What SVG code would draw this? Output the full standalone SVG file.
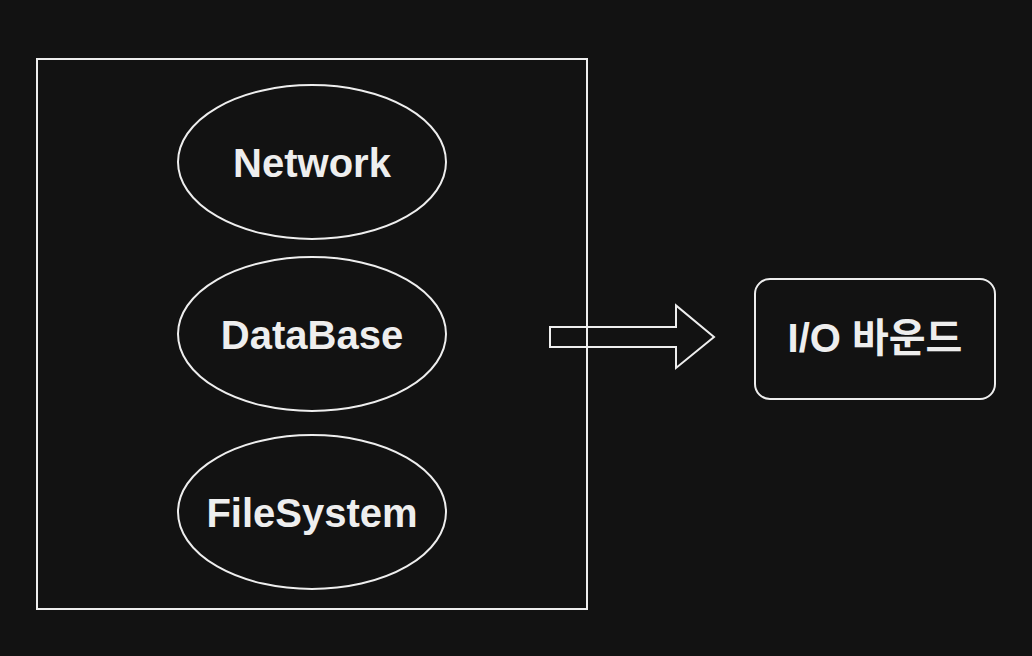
<svg xmlns="http://www.w3.org/2000/svg" width="1032" height="656" viewBox="0 0 1032 656">
<style>
.s{fill:none;stroke:#eeeeee;stroke-width:2}
.t{fill:#eeeeee;font-family:"Liberation Sans","Noto Sans CJK KR",Arial,sans-serif;font-weight:bold;font-size:40px;text-anchor:middle}
</style>
<rect width="1032" height="656" fill="#121212"/>
<g id="container"><rect class="s" x="37" y="59" width="550" height="550"/></g>
<g id="network"><ellipse class="s" cx="312" cy="162" rx="134" ry="77"/><text class="t" x="312" y="177">Network</text></g>
<g id="database"><ellipse class="s" cx="312" cy="334" rx="134" ry="77"/><text class="t" x="312" y="349">DataBase</text></g>
<g id="filesystem"><ellipse class="s" cx="312" cy="512" rx="134" ry="77"/><text class="t" x="312" y="527">FileSystem</text></g>
<g id="connectors"><path class="s" d="M550 327 H676 V305.5 L714 337 L676 368 V347 H550 Z"/></g>
<g id="io"><rect class="s" x="755" y="279" width="240" height="120" rx="15"/><text class="t" x="875" y="352" font-size="37">I/O 바운드</text></g>
</svg>
